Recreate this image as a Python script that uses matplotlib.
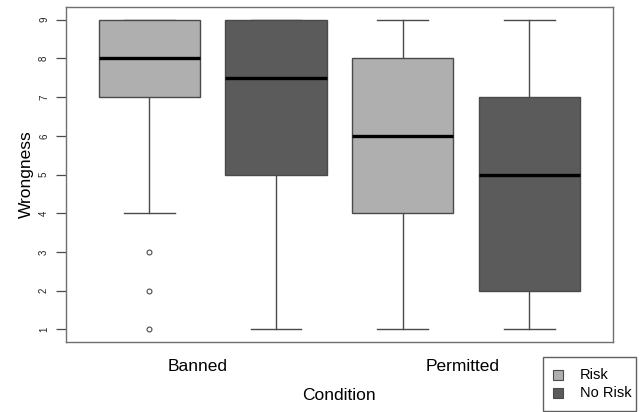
import matplotlib
matplotlib.use("Agg")
import matplotlib.pyplot as plt
from matplotlib.patches import Rectangle

plt.rcParams['font.family'] = ['Liberation Sans', 'DejaVu Sans']

# Box statistics
groups = ["Banned", "Permitted"]
series = ["Risk", "No Risk"]
positions = [1, 2, 3, 4]
whislo = [4, 1, 1, 1]
q1 = [7, 5, 4, 2]
med = [8, 7.5, 6, 5]
q3 = [9, 9, 8, 7]
whishi = [9, 9, 9, 9]
fliers = [[3, 2, 1], [], [], []]
box_colors = ["#AFAFAF", "#5B5B5B", "#AFAFAF", "#5B5B5B"]
series_colors = ["#AFAFAF", "#5B5B5B"]
y_ticks = [1, 2, 3, 4, 5, 6, 7, 8, 9]
group_label_x = [1.38, 3.47]

W, H = 640, 412
fig = plt.figure(figsize=(6.4, 4.12), dpi=100)
ax = fig.add_axes([65.7 / W, 1 - 341.7 / H, (613 - 65.7) / W, (341.7 - 7.3) / H])

stats = []
for i in range(len(positions)):
    stats.append(dict(whislo=whislo[i], q1=q1[i], med=med[i], q3=q3[i],
                      whishi=whishi[i], fliers=fliers[i]))

edge = "#4a4a4a"
bp = ax.bxp(stats, positions=positions, widths=0.8, patch_artist=True,
            showcaps=True,
            boxprops=dict(edgecolor=edge, linewidth=1.0, zorder=3),
            whiskerprops=dict(color=edge, linewidth=1.0, zorder=2),
            capprops=dict(color=edge, linewidth=1.0, zorder=2),
            medianprops=dict(color="black", linewidth=2.4, zorder=4),
            flierprops=dict(marker="o", markersize=3.5, markerfacecolor="white",
                            markeredgecolor=edge, markeredgewidth=0.8))
for cap in bp['caps']:
    x = cap.get_xdata()
    c = (x[0] + x[1]) / 2
    cap.set_xdata([c - 0.2, c + 0.2])
for patch, col in zip(bp['boxes'], box_colors):
    patch.set_facecolor(col)

ax.set_xlim(0.34, 4.66)
ax.set_ylim(0.68, 9.32)
ax.set_xticks([])
ax.set_yticks(y_ticks)
ax.set_yticklabels([str(t) for t in y_ticks], rotation=90, va="center", fontsize=7)
ax.tick_params(axis="y", length=7, width=0.9, color=edge, pad=5, labelcolor="#222222")
for s in ax.spines.values():
    s.set_color("#707070")
    s.set_linewidth(1.0)

ax.set_ylabel("Wrongness", fontsize=12.5, va="center")
ax.yaxis.set_label_coords((26.0 - 65.7) / (613 - 65.7), 0.5)
for gx, g in zip(group_label_x, groups):
    ax.text(gx, -0.075, g, transform=ax.get_xaxis_transform(), ha="center",
            va="center", fontsize=12.5)
ax.text(2.5, -0.16, "Condition", transform=ax.get_xaxis_transform(), ha="center",
        va="center", fontsize=12.5)

# Legend drawn in figure coordinates (outside the plot region, as in R)
fig.add_artist(Rectangle((543 / W, 1 - 411 / H), (636 - 543) / W, (411 - 357) / H,
                         transform=fig.transFigure, facecolor="white",
                         edgecolor="#606060", linewidth=1.0))
for k, (lab, col) in enumerate(zip(series, series_colors)):
    cy = 375 + 18 * k
    fig.add_artist(Rectangle((553 / W, 1 - (cy + 5) / H), 10 / W, 10 / H,
                             transform=fig.transFigure, facecolor=col,
                             edgecolor=edge, linewidth=0.8))
    fig.text(580 / W, 1 - cy / H, lab, ha="left", va="center", fontsize=10.5)

fig.savefig("out.png", dpi=100)
